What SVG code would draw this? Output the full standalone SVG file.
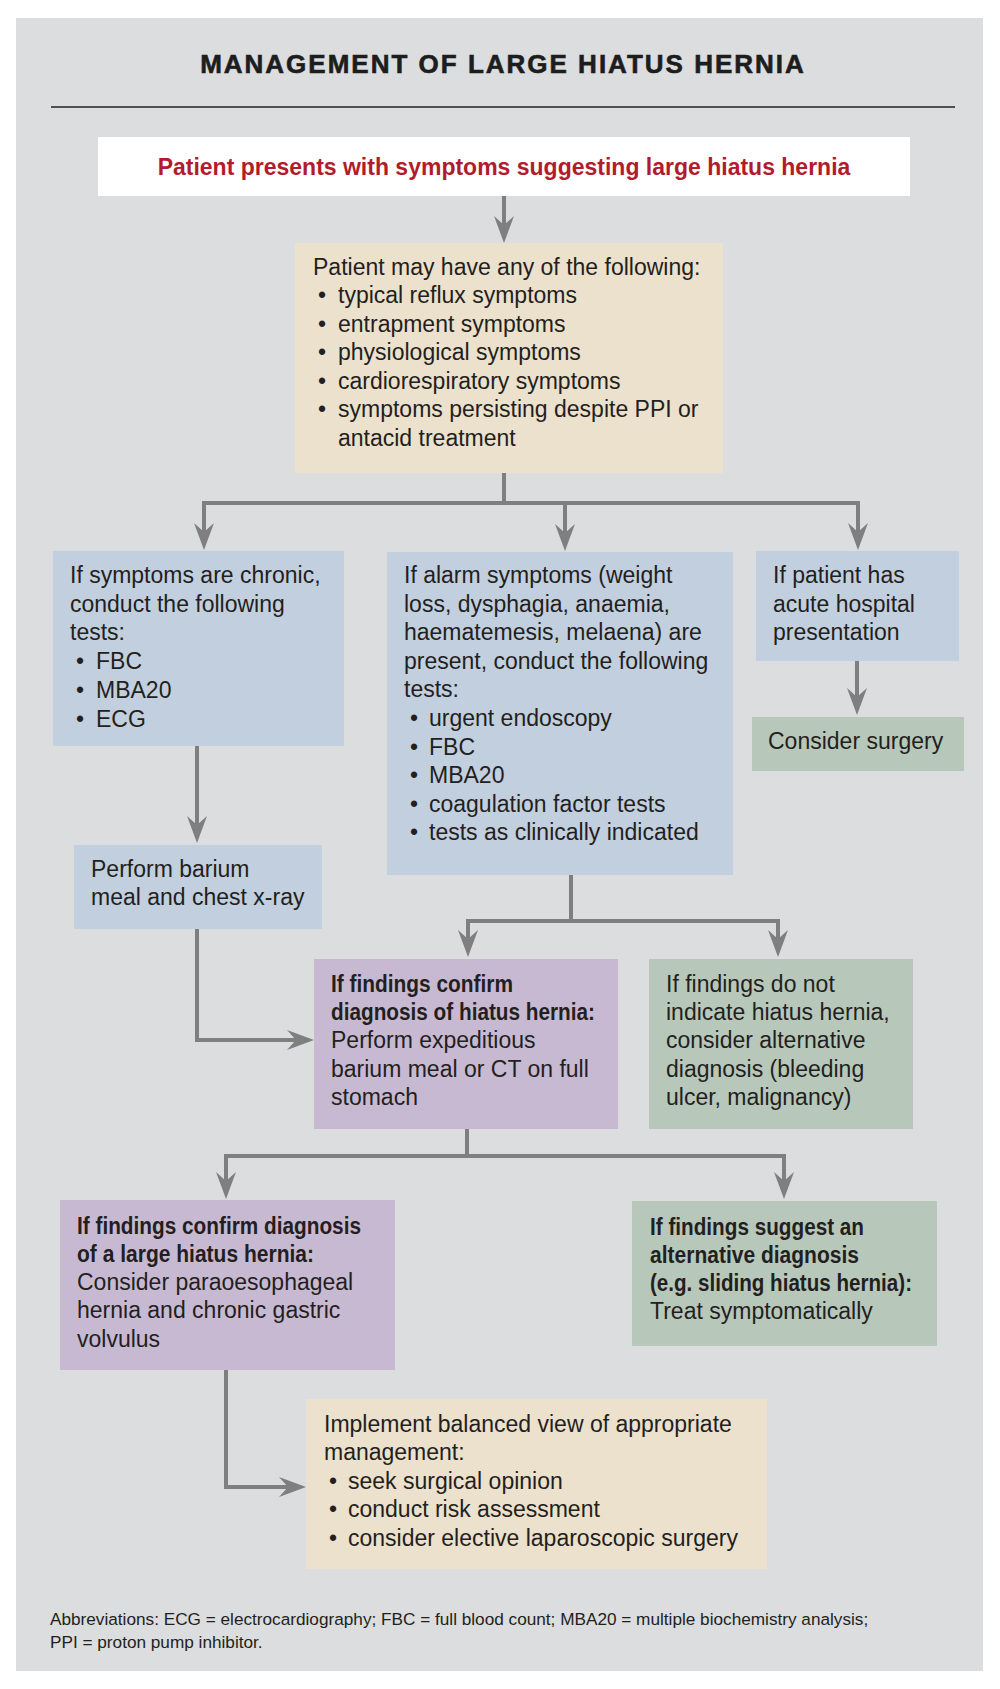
<svg xmlns="http://www.w3.org/2000/svg" width="1000" height="1689" viewBox="0 0 1000 1689">
<style>
text{font-family:"Liberation Sans",Arial,sans-serif;fill:#231f20;font-size:23px}
.b{font-weight:bold;font-size:23px}
.title{font-weight:bold;font-size:26px;letter-spacing:2px;fill:#1d1d1d;stroke:#1d1d1d;stroke-width:0.6}
.red{font-weight:bold;fill:#b31b2c;font-size:23px}
.ab{font-size:17.2px}
.blue{fill:#c2cfdf}.beige{fill:#ece1cc}.green{fill:#b7c8bb}.purple{fill:#c8b9d3}
.c{fill:none;stroke:#7f7f7f;stroke-width:4}
.a{marker-end:url(#ah)}
</style>
<defs>
<marker id="ah" markerUnits="userSpaceOnUse" markerWidth="30" markerHeight="24" viewBox="-28 -12 30 24" refX="-14" refY="0" orient="auto" overflow="visible">
<path d="M0,0 L-27,-10 L-18,0 L-27,10 Z" fill="#7f7f7f"/>
</marker>
</defs>
<rect x="16" y="18" width="967" height="1653" fill="#dcdddf"/>
<text class="title" x="503" y="73" text-anchor="middle">MANAGEMENT OF LARGE HIATUS HERNIA</text>
<line x1="51" y1="107" x2="955" y2="107" stroke="#231f20" stroke-width="1.6"/>

<g id="connectors">
<path class="c a" d="M504,196 V229"/>
<path class="c" d="M504,473 V503 M202,503 H860 M571,875 V921 M466,921 H780 M467,1129 V1156 M224,1156 H786"/>
<path class="c a" d="M204,503 V536"/>
<path class="c a" d="M565,503 V537"/>
<path class="c a" d="M858,503 V536"/>
<path class="c a" d="M857,661 V701"/>
<path class="c a" d="M197,746 V829"/>
<path class="c a" d="M197,929 V1040 H300"/>
<path class="c a" d="M468,921 V943"/>
<path class="c a" d="M778,921 V943"/>
<path class="c a" d="M226,1156 V1185"/>
<path class="c a" d="M784,1156 V1185"/>
<path class="c a" d="M226,1370 V1487 H292"/>
</g>

<g id="start">
<rect x="98" y="137" width="812" height="59" fill="#ffffff"/>
<text class="red" x="504" y="175" text-anchor="middle">Patient presents with symptoms suggesting large hiatus hernia</text>
</g>

<g id="symptoms">
<rect class="beige" x="295" y="243" width="428" height="230"/>
<text x="313" y="275">Patient may have any of the following:</text>
<text x="318" y="303">•</text><text x="338" y="303">typical reflux symptoms</text>
<text x="318" y="332">•</text><text x="338" y="332">entrapment symptoms</text>
<text x="318" y="360">•</text><text x="338" y="360">physiological symptoms</text>
<text x="318" y="389">•</text><text x="338" y="389">cardiorespiratory symptoms</text>
<text x="318" y="417">•</text><text x="338" y="417">symptoms persisting despite PPI or</text>
<text x="338" y="446">antacid treatment</text>
</g>

<g id="chronic">
<rect class="blue" x="53" y="551" width="291" height="195"/>
<text x="70" y="583">If symptoms are chronic,</text>
<text x="70" y="612">conduct the following</text>
<text x="70" y="640">tests:</text>
<text x="76" y="669">•</text><text x="96" y="669">FBC</text>
<text x="76" y="698">•</text><text x="96" y="698">MBA20</text>
<text x="76" y="727">•</text><text x="96" y="727">ECG</text>
</g>

<g id="alarm">
<rect class="blue" x="387" y="552" width="346" height="323"/>
<text x="404" y="583">If alarm symptoms (weight</text>
<text x="404" y="612">loss, dysphagia, anaemia,</text>
<text x="404" y="640">haematemesis, melaena) are</text>
<text x="404" y="669">present, conduct the following</text>
<text x="404" y="697">tests:</text>
<text x="410" y="726">•</text><text x="429" y="726">urgent endoscopy</text>
<text x="410" y="755">•</text><text x="429" y="755">FBC</text>
<text x="410" y="783">•</text><text x="429" y="783">MBA20</text>
<text x="410" y="812">•</text><text x="429" y="812">coagulation factor tests</text>
<text x="410" y="840">•</text><text x="429" y="840">tests as clinically indicated</text>
</g>

<g id="acute">
<rect class="blue" x="756" y="551" width="203" height="110"/>
<text x="773" y="583">If patient has</text>
<text x="773" y="612">acute hospital</text>
<text x="773" y="640">presentation</text>
</g>

<g id="surgery">
<rect class="green" x="752" y="717" width="212" height="54"/>
<text x="768" y="749">Consider surgery</text>
</g>

<g id="barium">
<rect class="blue" x="74" y="845" width="248" height="84"/>
<text x="91" y="877">Perform barium</text>
<text x="91" y="905">meal and chest x-ray</text>
</g>

<g id="confirm">
<rect class="purple" x="314" y="959" width="304" height="170"/>
<text class="b" x="331" y="992" textLength="182" lengthAdjust="spacingAndGlyphs">If findings confirm</text>
<text class="b" x="331" y="1020" textLength="264" lengthAdjust="spacingAndGlyphs">diagnosis of hiatus hernia:</text>
<text x="331" y="1048">Perform expeditious</text>
<text x="331" y="1077">barium meal or CT on full</text>
<text x="331" y="1105">stomach</text>
</g>

<g id="notindicate">
<rect class="green" x="649" y="959" width="264" height="170"/>
<text x="666" y="992">If findings do not</text>
<text x="666" y="1020">indicate hiatus hernia,</text>
<text x="666" y="1048">consider alternative</text>
<text x="666" y="1077">diagnosis (bleeding</text>
<text x="666" y="1105">ulcer, malignancy)</text>
</g>

<g id="large">
<rect class="purple" x="60" y="1200" width="335" height="170"/>
<text class="b" x="77" y="1234" textLength="284" lengthAdjust="spacingAndGlyphs">If findings confirm diagnosis</text>
<text class="b" x="77" y="1262" textLength="237" lengthAdjust="spacingAndGlyphs">of a large hiatus hernia:</text>
<text x="77" y="1290">Consider paraoesophageal</text>
<text x="77" y="1318">hernia and chronic gastric</text>
<text x="77" y="1347">volvulus</text>
</g>

<g id="alternative">
<rect class="green" x="632" y="1201" width="305" height="145"/>
<text class="b" x="650" y="1235" textLength="214" lengthAdjust="spacingAndGlyphs">If findings suggest an</text>
<text class="b" x="650" y="1263" textLength="209" lengthAdjust="spacingAndGlyphs">alternative diagnosis</text>
<text class="b" x="650" y="1291" textLength="262" lengthAdjust="spacingAndGlyphs">(e.g. sliding hiatus hernia):</text>
<text x="650" y="1319">Treat symptomatically</text>
</g>

<g id="management">
<rect class="beige" x="306" y="1399" width="461" height="170"/>
<text x="324" y="1432">Implement balanced view of appropriate</text>
<text x="324" y="1460">management:</text>
<text x="329" y="1489">•</text><text x="348" y="1489">seek surgical opinion</text>
<text x="329" y="1517">•</text><text x="348" y="1517">conduct risk assessment</text>
<text x="329" y="1546">•</text><text x="348" y="1546">consider elective laparoscopic surgery</text>
</g>

<text class="ab" x="50" y="1625">Abbreviations: ECG = electrocardiography; FBC = full blood count; MBA20 = multiple biochemistry analysis;</text>
<text class="ab" x="50" y="1648">PPI = proton pump inhibitor.</text>
</svg>
